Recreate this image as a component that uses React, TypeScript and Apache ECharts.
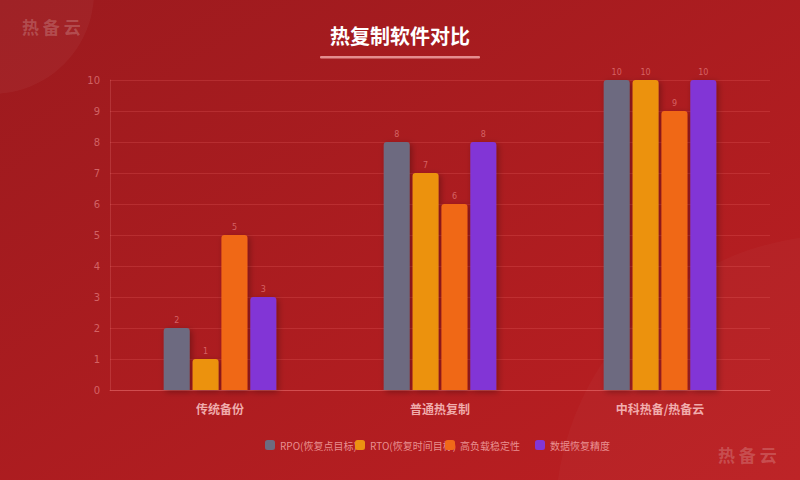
import React, { useEffect, useRef } from "react";
import * as echarts from "echarts";

const categories = ["传统备份", "普通热复制", "中科热备/热备云"];
const seriesNames = ["RPO(恢复点目标)", "RTO(恢复时间目标)", "高负载稳定性", "数据恢复精度"];
const rpoValues = [2, 8, 10];
const rtoValues = [1, 7, 10];
const stabilityValues = [5, 6, 9];
const accuracyValues = [3, 8, 10];
const seriesColors = ["#6d6b80", "#ec9211", "#f06818", "#8236d6"];
const yTicks = { min: 0, max: 10, interval: 1 };

export default function App() {
  const ref = useRef<HTMLDivElement>(null);
  useEffect(() => {
    if (!ref.current) return;
    const chart = echarts.init(ref.current, undefined, { renderer: "svg" });
    const valueSets = [rpoValues, rtoValues, stabilityValues, accuracyValues];
    const series = seriesNames.map((name, i) => ({
      name,
      type: "bar",
      data: valueSets[i],
      barWidth: 26,
      barGap: "11%",
      itemStyle: {
        color: seriesColors[i],
        borderRadius: [3, 3, 0, 0],
        shadowColor: "rgba(0,0,0,0.3)",
        shadowBlur: 6,
        shadowOffsetX: 2,
        shadowOffsetY: 2,
      },
      label: {
        show: true,
        position: "top",
        distance: 4,
        color: "rgba(255,170,170,0.5)",
        fontSize: 8,
        fontFamily: "DejaVu Sans",
      },
    }));
    const legends = seriesNames.map((name, i) => ({
      data: [name],
      left: 260 + i * 90,
      top: 435,
      itemWidth: 10,
      itemHeight: 10,
      itemGap: 0,
      icon: "roundRect",
      textStyle: {
        color: "rgba(255,190,190,0.72)",
        fontSize: 10,
        fontFamily: "Noto Sans CJK SC",
      },
    }));
    chart.setOption({
      animation: false,
      backgroundColor: {
        type: "linear",
        x: 0,
        y: 0,
        x2: 1,
        y2: 1,
        colorStops: [
          { offset: 0, color: "#9c1a1e" },
          { offset: 1, color: "#bc1f22" },
        ],
      },
      graphic: [
        {
          type: "circle",
          shape: { cx: -8, cy: -8, r: 102 },
          style: { fill: "rgba(255,255,255,0.04)" },
          silent: true,
          z: -1,
        },
        {
          type: "circle",
          shape: { cx: 840, cy: 520, r: 285 },
          style: { fill: "rgba(255,255,255,0.025)" },
          silent: true,
          z: -1,
        },
        {
          type: "text",
          left: 22,
          top: 18,
          style: {
            text: "热 备 云",
            fill: "rgba(255,255,255,0.2)",
            font: "bold 17px 'Noto Sans CJK SC'",
          },
          silent: true,
        },
        {
          type: "text",
          left: 718,
          top: 446,
          style: {
            text: "热 备 云",
            fill: "rgba(255,255,255,0.2)",
            font: "bold 17px 'Noto Sans CJK SC'",
          },
          silent: true,
        },
        {
          type: "rect",
          shape: { x: 320, y: 56, width: 160, height: 2.5, r: 1 },
          style: { fill: "rgba(255,190,190,0.7)" },
          silent: true,
        },
      ],
      title: {
        text: "热复制软件对比",
        left: "center",
        top: 20,
        textStyle: {
          color: "#ffffff",
          fontSize: 20,
          fontWeight: "bold",
          fontFamily: "Noto Sans CJK SC",
        },
      },
      legend: legends,
      grid: { left: 110, right: 30, top: 80, bottom: 90 },
      xAxis: {
        type: "category",
        data: categories,
        axisLine: { lineStyle: { color: "rgba(255,150,150,0.3)" } },
        axisTick: { show: false },
        axisLabel: {
          color: "rgba(255,205,205,0.82)",
          fontSize: 12,
          fontWeight: "bold",
          margin: 12,
          fontFamily: "Noto Sans CJK SC",
        },
      },
      yAxis: {
        type: "value",
        min: yTicks.min,
        max: yTicks.max,
        interval: yTicks.interval,
        axisLine: { show: true, lineStyle: { color: "rgba(255,150,150,0.2)" } },
        axisTick: { show: false },
        axisLabel: {
          color: "rgba(255,170,170,0.5)",
          fontSize: 10,
          margin: 10,
          fontFamily: "DejaVu Sans",
        },
        splitLine: { lineStyle: { color: "rgba(255,120,120,0.2)" } },
      },
      series,
    });
    return () => chart.dispose();
  }, []);
  return <div ref={ref} style={{ width: 800, height: 480, position: "absolute", left: 0, top: 0 }} />;
}
